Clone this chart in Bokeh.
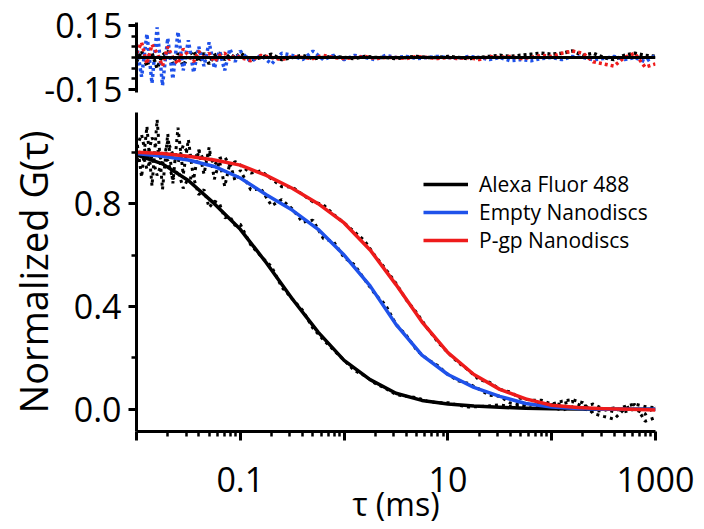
from bokeh.plotting import figure
from bokeh.layouts import column
from bokeh.models import (Range1d, FixedTicker, CustomJSTickFormatter, NumeralTickFormatter,
                          Span, Legend, LegendItem)
from bokeh.embed import file_html
from bokeh.resources import INLINE

# ---------------- data ----------------
series_labels = ["Alexa Fluor 488", "Empty Nanodiscs", "P-gp Nanodiscs"]
series_colors = ["#000000", "#1f52ea", "#ee1b1b"]

x_major_ticks = [0.01, 0.1, 1, 10, 100, 1000]
x_tick_labels = ["0.1", "10", "1000"]

# lag times of the measured curves (ms)
tau_data = [0.01, 0.0112, 0.0126, 0.0141, 0.0158, 0.0178, 0.02, 0.0224, 0.0251, 0.0282,
            0.0316, 0.0355, 0.0398, 0.0447, 0.0501, 0.0562, 0.0631, 0.0708, 0.0794, 0.0891,
            0.1, 0.126, 0.158, 0.2, 0.251, 0.316, 0.398, 0.501, 0.631, 0.794,
            1.0, 1.26, 1.58, 2.0, 2.51, 3.16, 3.98, 5.01, 6.31, 7.94,
            10, 12.6, 15.8, 20, 25.1, 31.6, 39.8, 50.1, 63.1, 79.4,
            100, 126, 158, 200, 251, 316, 398, 501, 631, 794, 1000]

black_data = [0.97, 1.01, 0.935, 0.985, 0.91, 0.965, 0.97, 0.895, 0.93, 0.86,
              0.90, 0.90, 0.835, 0.855, 0.785, 0.81, 0.80, 0.745, 0.75, 0.715,
              0.72, 0.64, 0.595, 0.555, 0.475, 0.43, 0.385, 0.315, 0.27, 0.23,
              0.19, 0.15, 0.13, 0.10, 0.08, 0.057, 0.05, 0.045, 0.031, 0.025,
              0.025, 0.016, 0.008, 0.01, 0.013, 0.017, 0.01, 0.014, 0.018, 0.022,
              0.017, 0.021, 0.03, 0.01, 0.02, 0.0, -0.01, 0.01, 0.02, 0.01, 0.005]

blue_data = [1.055, 0.903, 1.101, 0.869, 1.127, 0.855, 1.072, 0.879, 1.096, 0.913,
             1.05, 0.895, 1.01, 0.915, 1.02, 0.895, 0.966, 0.867, 0.958, 0.889,
             0.93, 0.854, 0.858, 0.792, 0.816, 0.78, 0.728, 0.736, 0.664, 0.652,
             0.59, 0.562, 0.504, 0.446, 0.406, 0.33, 0.287, 0.229, 0.195, 0.17,
             0.135, 0.11, 0.10, 0.078, 0.054, 0.05, 0.024, 0.018, 0.004, 0.008,
             0.008, -0.004, 0.009, 0.002, -0.009, -0.005, 0.005, -0.01, 0.0, -0.02, 0.01]

red_data = [1.02, 1.069, 0.968, 1.057, 1.016, 0.955, 1.043, 0.991, 0.959, 1.027,
            0.995, 0.962, 1.009, 0.966, 0.993, 0.95, 0.976, 0.982, 0.948, 0.964,
            0.95, 0.919, 0.928, 0.896, 0.866, 0.865, 0.836, 0.807, 0.796, 0.758,
            0.725, 0.69, 0.655, 0.595, 0.546, 0.49, 0.425, 0.375, 0.316, 0.263,
            0.22, 0.181, 0.152, 0.114, 0.105, 0.077, 0.067, 0.042, 0.035, 0.035,
            0.02, 0.031, 0.037, 0.025, -0.017, -0.028, -0.039, 0.0, 0.019, -0.047, -0.033]

black_resid = [-0.02, 0.03, -0.04, 0.02, -0.05, 0.01, 0.03, -0.03, 0.02, -0.04,
               0.01, 0.03, -0.02, 0.02, -0.03, 0.01, 0.02, -0.01, 0.015, 0.0,
               0.02, -0.01, 0.0, 0.015, -0.01, 0.0, 0.01, -0.005, 0.0, 0.005,
               0.0, -0.005, 0.005, 0.0, 0.0, -0.005, 0.0, 0.005, 0.0, 0.0,
               0.005, 0.0, -0.005, 0.0, 0.005, 0.01, 0.005, 0.01, 0.015, 0.02,
               0.015, 0.02, 0.03, 0.01, 0.02, 0.0, -0.01, 0.01, 0.02, 0.01, 0.005]

blue_resid = [0.06, -0.09, 0.11, -0.12, 0.14, -0.13, 0.09, -0.10, 0.12, -0.06,
              0.08, -0.07, 0.05, -0.04, 0.07, -0.05, 0.03, -0.06, 0.04, -0.02,
              0.03, -0.02, 0.01, -0.03, 0.02, 0.01, -0.01, 0.03, -0.01, 0.01,
              -0.01, 0.01, 0.0, -0.01, 0.01, 0.0, 0.005, -0.005, 0.0, 0.005,
              0.0, -0.005, 0.005, 0.0, -0.01, 0.0, -0.015, -0.01, -0.015, -0.005,
              0.0, -0.01, 0.005, 0.0, -0.01, -0.005, 0.005, -0.01, 0.0, -0.02, 0.01]

red_resid = [0.02, 0.07, -0.03, 0.06, 0.02, -0.04, 0.05, 0.0, -0.03, 0.04,
             0.01, -0.02, 0.03, -0.01, 0.02, -0.02, 0.01, 0.02, -0.01, 0.01,
             0.0, -0.015, 0.01, 0.0, -0.01, 0.005, 0.0, -0.005, 0.01, 0.0,
             -0.005, 0.0, 0.005, -0.005, 0.0, 0.0, -0.005, 0.005, 0.0, -0.005,
             0.0, -0.005, 0.0, -0.01, 0.005, 0.0, 0.005, -0.005, 0.0, 0.01,
             0.005, 0.02, 0.03, 0.02, -0.02, -0.03, -0.04, 0.0, 0.02, -0.045, -0.03]

# fitted curves
tau_fit = [0.01, 0.0178, 0.0316, 0.0562, 0.1, 0.178, 0.316, 0.562, 1, 1.78, 3.16,
           5.62, 10, 17.8, 31.6, 56.2, 100, 178, 316, 562, 1000]
black_fit = [0.99, 0.955, 0.89, 0.80, 0.70, 0.57, 0.43, 0.30, 0.19, 0.115, 0.062,
             0.034, 0.02, 0.012, 0.007, 0.004, 0.002, 0.001, 0.0, 0.0, 0.0]
blue_fit = [0.995, 0.985, 0.97, 0.945, 0.90, 0.835, 0.775, 0.70, 0.60, 0.48, 0.33,
            0.21, 0.135, 0.085, 0.05, 0.022, 0.008, 0.003, 0.0, 0.0, 0.0]
red_fit = [1.0, 0.995, 0.985, 0.97, 0.95, 0.91, 0.86, 0.80, 0.725, 0.62, 0.485,
           0.34, 0.22, 0.135, 0.077, 0.04, 0.015, 0.006, 0.002, 0.0, -0.003]

# ---------------- styling ----------------
FONT = "Open Sans"
TICK_FS = "34px"

x_range = Range1d(0.01, 1000)
x_minor = [m * 10.0 ** e for e in range(-2, 3) for m in range(2, 10)]


def style_axis(ax, major_out=8, minor_out=5):
    ax.axis_line_width = 3
    ax.axis_line_color = "black"
    ax.major_tick_line_width = 3
    ax.minor_tick_line_width = 2.5
    ax.major_tick_out = major_out
    ax.major_tick_in = 0
    ax.minor_tick_out = minor_out
    ax.minor_tick_in = 0
    ax.major_label_text_font = FONT
    ax.major_label_text_font_size = TICK_FS
    ax.major_label_text_color = "black"
    ax.axis_label_text_font = FONT
    ax.axis_label_text_font_style = "normal"
    ax.axis_label_text_color = "black"


# ---- top: residuals ----
top = figure(width=700, height=112, x_axis_type="log", x_range=x_range,
             y_range=Range1d(-0.163, 0.163), x_axis_location=None,
             output_backend="svg", toolbar_location=None,
             min_border_left=136, min_border_right=45,
             min_border_top=22, min_border_bottom=20)
top.outline_line_color = None
top.grid.grid_line_color = None
top.yaxis.ticker = FixedTicker(ticks=[-0.15, 0.15], minor_ticks=[-0.1, -0.05, 0, 0.05, 0.1])
top.yaxis.formatter = NumeralTickFormatter(format="0.00")
style_axis(top.yaxis[0])
top.yaxis.major_label_standoff = 6

top.add_layout(Span(location=0, dimension="width", line_color="black", line_width=3))
for res, col in zip([black_resid, blue_resid, red_resid], series_colors):
    top.line(tau_data, res, line_color=col, line_width=3.5, line_dash="3 3")

# ---- bottom: normalized correlation ----
main = figure(width=700, height=415, x_axis_type="log", x_range=x_range,
              y_range=Range1d(-0.087, 1.155),
              output_backend="svg", toolbar_location=None,
              min_border_left=136, min_border_right=45,
              min_border_top=0, min_border_bottom=95)
main.outline_line_color = None
main.grid.grid_line_color = None

main.xaxis.ticker = FixedTicker(ticks=x_major_ticks, minor_ticks=x_minor)
label_js = "{" + ", ".join('"%s": "%s"' % (t, t) for t in x_tick_labels) + "}"
main.xaxis.formatter = CustomJSTickFormatter(
    code="const L = %s; const k = String(tick); return (k in L) ? L[k] : '';" % label_js)
style_axis(main.xaxis[0], major_out=9, minor_out=5)
main.xaxis.major_label_standoff = 26
main.xaxis.axis_label = "τ (ms)"
main.xaxis.axis_label_text_font_size = "32px"
main.xaxis.axis_label_standoff = -13

main.yaxis.ticker = FixedTicker(ticks=[0, 0.4, 0.8], minor_ticks=[0.2, 0.6, 1.0])
main.yaxis.formatter = NumeralTickFormatter(format="0.0")
style_axis(main.yaxis[0])
main.yaxis.major_label_standoff = 7
main.yaxis.axis_label = "Normalized G(τ)"
main.yaxis.axis_label_text_font_size = "38px"
main.yaxis.axis_label_standoff = 12

for dat in [black_data, blue_data, red_data]:
    main.line(tau_data, dat, line_color="black", line_width=3, line_dash="3 4")

fit_renderers = []
for fit, col in zip([black_fit, blue_fit, red_fit], series_colors):
    r = main.line(tau_fit, fit, line_color=col, line_width=3.5, line_join="round")
    fit_renderers.append(r)

legend = Legend(items=[LegendItem(label=lab, renderers=[r]) for lab, r in zip(series_labels, fit_renderers)],
                location=(287, 177), padding=0, margin=0, spacing=-8,
                label_height=22, glyph_height=22, glyph_width=45, label_standoff=11,
                label_text_font=FONT, label_text_font_size="21px", label_text_color="black",
                border_line_alpha=0, background_fill_alpha=0)
main.add_layout(legend)

layout = column(top, main, spacing=0)

open("out.html", "w").write(file_html(layout, INLINE))
